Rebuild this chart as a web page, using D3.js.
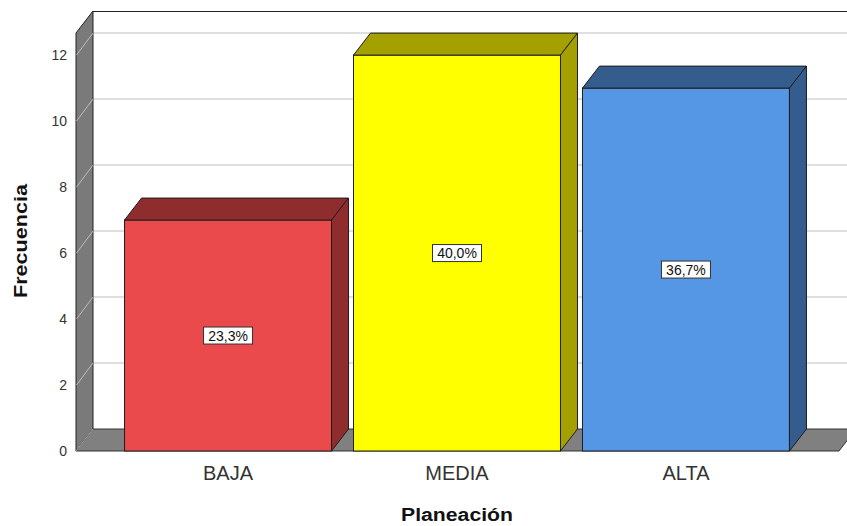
<!DOCTYPE html>
<html>
<head>
<meta charset="utf-8">
<script src="https://cdn.jsdelivr.net/npm/d3@7/dist/d3.min.js"></script>
<style>
  html, body { margin: 0; padding: 0; background: #fff; }
  svg { display: block; font-family: "Liberation Sans", Arial, sans-serif; }
</style>
</head>
<body>
<svg id="chart" width="847" height="526"></svg>
<script>
// Frecuencias por nivel de planeación
const categories = ["BAJA", "MEDIA", "ALTA"];
const counts = [7, 12, 11];
const frontColors = ["#EB4A4C", "#FFFF00", "#5596E5"];
const shadeColors = ["#8F2C2D", "#A3A000", "#345D8E"];
const yTicks = [0, 2, 4, 6, 8, 10, 12];
const yTitle = "Frecuencia";
const xTitle = "Planeación";

const W = 847, H = 526;
const depthX = 17, depthY = -22;      // 3D offset of the back plane
const plotLeft = 76, plotRight = 839;  // front plane extent
const yBottom = 451, yTop = 33;
const yMax = 12.67;

const svg = d3.select("#chart");

const x = d3.scaleBand()
  .domain(categories)
  .range([plotLeft, plotRight - 1])
  .paddingInner(0.096)
  .paddingOuter(0.212);

const y = d3.scaleLinear().domain([0, yMax]).range([yBottom, yTop]);

const total = d3.sum(counts);
const pct = v => (v / total * 100).toFixed(1).replace(".", ",") + "%";

// Back wall
const backL = plotLeft + depthX;
svg.append("rect")
  .attr("x", backL).attr("y", yTop + depthY)
  .attr("width", W - backL + 20).attr("height", yBottom - yTop)
  .attr("fill", "#fff");

// Grid lines on the back wall
svg.append("g").selectAll("line")
  .data(yTicks.filter(d => d > 0))
  .join("line")
  .attr("x1", backL).attr("x2", W)
  .attr("y1", d => y(d) + depthY).attr("y2", d => y(d) + depthY)
  .attr("stroke", "#d4d4d4").attr("stroke-width", 1.5);

// Top edge of the back wall
svg.append("line")
  .attr("x1", backL).attr("x2", W)
  .attr("y1", yTop + depthY + 0.5).attr("y2", yTop + depthY + 0.5)
  .attr("stroke", "#222").attr("stroke-width", 1);

// Left wall
svg.append("polygon")
  .attr("points", [
    [plotLeft, yTop], [backL, yTop + depthY],
    [backL, yBottom + depthY], [plotLeft, yBottom]
  ].join(" "))
  .attr("fill", "#7a7a7a").attr("stroke", "#222").attr("stroke-width", 1);

// Grid lines across the left wall
svg.append("g").selectAll("line")
  .data(yTicks.filter(d => d > 0))
  .join("line")
  .attr("x1", plotLeft + 0.5).attr("x2", backL)
  .attr("y1", d => y(d)).attr("y2", d => y(d) + depthY)
  .attr("stroke", "#bdbdbd").attr("stroke-width", 1);

// Floor
svg.append("polygon")
  .attr("points", [
    [plotLeft, yBottom], [backL, yBottom + depthY],
    [plotRight + depthX, yBottom + depthY], [plotRight, yBottom]
  ].join(" "))
  .attr("fill", "#808080").attr("stroke", "#333").attr("stroke-width", 1);

// Diagonal on the floor at zero
svg.append("line")
  .attr("x1", plotLeft).attr("y1", yBottom)
  .attr("x2", backL).attr("y2", yBottom + depthY)
  .attr("stroke", "#a8a8a8").attr("stroke-width", 1);

// Y tick labels
svg.append("g").selectAll("text")
  .data(yTicks)
  .join("text")
  .attr("x", 67).attr("y", d => y(d))
  .attr("dy", "0.36em")
  .attr("text-anchor", "end")
  .attr("font-size", 14)
  .attr("fill", "#333")
  .text(d => d);

// Bars
const bars = svg.append("g").selectAll("g")
  .data(categories.map((c, i) => ({ c, v: counts[i], i })))
  .join("g");

bars.append("rect")
  .attr("x", d => x(d.c)).attr("y", d => y(d.v))
  .attr("width", x.bandwidth()).attr("height", d => yBottom - y(d.v))
  .attr("fill", d => frontColors[d.i])
  .attr("stroke", "#1e1e1e").attr("stroke-width", 1);

bars.append("polygon")
  .attr("points", d => {
    const x0 = x(d.c), x1 = x0 + x.bandwidth(), yt = y(d.v);
    return [[x0, yt], [x0 + depthX, yt + depthY], [x1 + depthX, yt + depthY], [x1, yt]].join(" ");
  })
  .attr("fill", d => shadeColors[d.i])
  .attr("stroke", "#1e1e1e").attr("stroke-width", 1).attr("stroke-linejoin", "round");

bars.append("polygon")
  .attr("points", d => {
    const x1 = x(d.c) + x.bandwidth(), yt = y(d.v);
    return [[x1, yt], [x1 + depthX, yt + depthY], [x1 + depthX, yBottom + depthY], [x1, yBottom]].join(" ");
  })
  .attr("fill", d => shadeColors[d.i])
  .attr("stroke", "#1e1e1e").attr("stroke-width", 1).attr("stroke-linejoin", "round");

// Percentage labels
const labels = bars.append("g")
  .attr("transform", d => `translate(${x(d.c) + x.bandwidth() / 2},${(y(d.v) + yBottom) / 2})`);
labels.append("rect")
  .attr("x", -24.5).attr("y", -8.5).attr("width", 49).attr("height", 17)
  .attr("fill", "#fff").attr("stroke", "#333").attr("stroke-width", 1);
labels.append("text")
  .attr("text-anchor", "middle").attr("dy", "0.36em")
  .attr("font-size", 14).attr("fill", "#111")
  .text(d => pct(d.v));

// Category labels
svg.append("g").selectAll("text")
  .data(categories)
  .join("text")
  .attr("x", d => x(d) + x.bandwidth() / 2)
  .attr("y", 480)
  .attr("text-anchor", "middle")
  .attr("font-size", 20)
  .attr("fill", "#333")
  .text(d => d);

// Axis titles
svg.append("text")
  .attr("transform", `translate(27,241) rotate(-90)`)
  .attr("text-anchor", "middle")
  .attr("font-size", 18).attr("font-weight", "bold").attr("fill", "#111")
  .attr("textLength", 114).attr("lengthAdjust", "spacingAndGlyphs")
  .text(yTitle);

svg.append("text")
  .attr("x", 457).attr("y", 521)
  .attr("text-anchor", "middle")
  .attr("font-size", 18).attr("font-weight", "bold").attr("fill", "#111")
  .attr("textLength", 112).attr("lengthAdjust", "spacingAndGlyphs")
  .text(xTitle);
</script>
</body>
</html>
